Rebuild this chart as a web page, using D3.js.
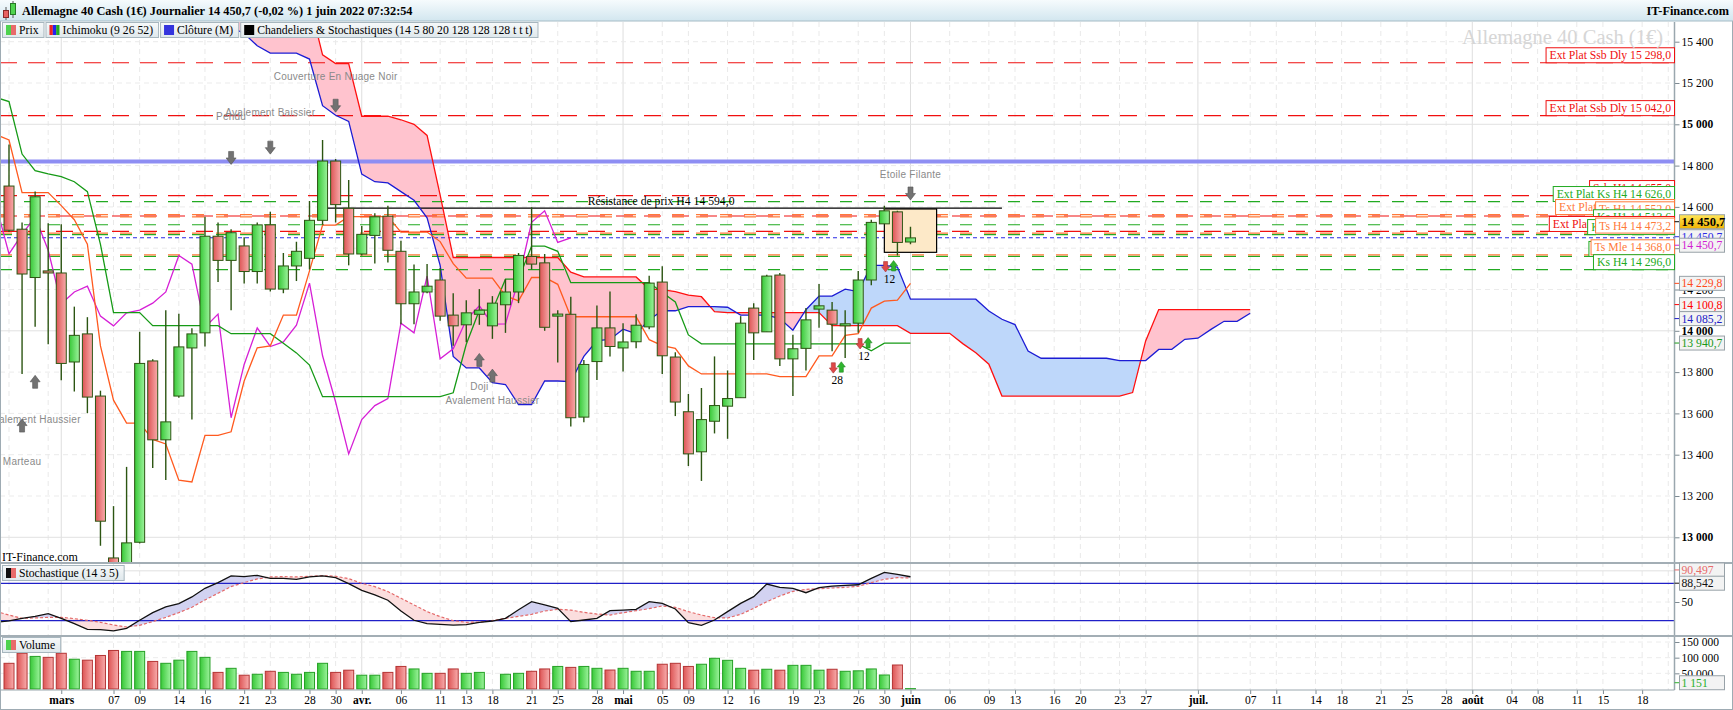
<!DOCTYPE html>
<html>
<head>
<meta charset="utf-8">
<script src="https://cdn.jsdelivr.net/npm/d3@7"></script>
<style>
body { margin: 0; background: #fff; }
svg text { font-family: "Liberation Serif", "Times New Roman", serif; }
svg text.pat { font-family: "Liberation Sans", Arial, sans-serif; }
</style>
</head>
<body>
<script>
// ---- data ----
// trading-day slot index 0 = 23 feb 2022, 69 = 1 juin 2022
var tickIdx = [4, 8, 10, 13, 15, 18, 20, 23, 25, 27, 30, 33, 35, 37, 40, 42, 45, 47, 50, 52, 55, 57, 60, 62, 65, 67, 69,
  72, 75, 77, 80, 82, 85, 87, 91, 95, 97, 100, 102, 105, 107, 110, 112, 115, 117, 120, 122, 125];
var tickLbl = ["mars", "07", "09", "14", "16", "21", "23", "28", "30", "avr.", "06", "11", "13", "18", "21", "25", "28",
  "mai", "05", "09", "12", "16", "19", "23", "26", "30", "juin", "06", "09", "13", "16", "20", "23", "27", "juil.",
  "07", "11", "14", "18", "21", "25", "28", "août", "04", "08", "11", "15", "18"];
var gridExtra = [0, 3, 127];

var open = [14701, 14492, 14258, 14290, 14280, 13849, 13985, 13684, 12900, 12800,
  12976, 13854, 13472, 13684, 13917, 13990, 14458, 14341, 14411, 14287,
  14513, 14202, 14314, 14351, 14535, 14822, 14593, 14372, 14462, 14555,
  14385, 14131, 14188, 14246, 14076, 14029, 14080, 14024, 14126, 14188,
  14360, 14329, 14071, 14080, 13582, 13851, 14014, 13917, 13947, 14019,
  14236, 13873, 13608, 13414, 13562, 13635, 13676, 14110, 13995, 14270,
  13864, 13915, 14105, 14100, 14030, 14037, 14246, 14518, 14576, 14430];
var close = [14487, 14275, 14649, 14280, 13842, 13978, 13679, 13078, 12780, 12973,
  13842, 13472, 13559, 13922, 13985, 14458, 14341, 14475, 14287, 14513,
  14202, 14314, 14385, 14535, 14822, 14611, 14372, 14467, 14552, 14390,
  14131, 14188, 14216, 14071, 14024, 14087, 14100, 14134, 14188, 14365,
  14323, 14017, 14081, 13579, 13837, 14014, 13924, 13946, 14027, 14231,
  13879, 13655, 13404, 13570, 13638, 13672, 14037, 13990, 14265, 13864,
  13913, 14053, 14121, 14032, 14034, 14246, 14525, 14581, 14428, 14450];
var high = [14902, 14525, 14674, 14521, 14516, 14117, 14066, 13710, 13151, 13341,
  13995, 13862, 14100, 14083, 14012, 14552, 14525, 14492, 14453, 14525,
  14577, 14377, 14431, 14628, 14924, 14832, 14730, 14508, 14569, 14606,
  14436, 14321, 14323, 14304, 14182, 14148, 14202, 14168, 14250, 14377,
  14598, 14372, 14100, 14165, 13859, 14122, 14190, 14037, 14080, 14267,
  14312, 13896, 13694, 13723, 13876, 13808, 14071, 14134, 14272, 14280,
  13981, 14110, 14227, 14139, 14100, 14290, 14538, 14606, 14581, 14504];
var low = [14479, 13791, 14020, 13935, 13761, 13706, 13601, 12959, 12440, 12470,
  12970, 13336, 13277, 13676, 13570, 13924, 14236, 14100, 14229, 14229,
  14190, 14182, 14241, 14297, 14513, 14525, 14317, 14365, 14326, 14331,
  14032, 14032, 14182, 14049, 13927, 13944, 14029, 13961, 13990, 14134,
  14297, 14000, 13846, 13537, 13557, 13762, 13876, 13803, 13915, 14008,
  13791, 13587, 13345, 13273, 13503, 13477, 13676, 13859, 13995, 13829,
  13684, 13808, 14015, 13901, 13868, 13990, 14221, 14518, 14365, 14419];
var volume = [82000, 114000, 104000, 101000, 114000, 95000, 92000, 107000, 123000, 120000,
  120000, 88000, 82000, 92000, 120000, 101000, 53000, 66000, 44000, 47000,
  56500, 53000, 47000, 53000, 82000, 53000, 60000, 44000, 44000, 53000,
  72000, 64000, 50000, 50000, 64000, 50000, 53000, 0, 47000, 50000,
  56500, 64000, 72000, 69000, 72000, 66000, 60500, 66000, 56500, 56500,
  79000, 82000, 72000, 79000, 98000, 91500, 66000, 60000, 63000, 60000,
  75500, 75500, 60000, 63000, 56500, 58000, 64000, 44700, 76600, 1151];

// ichimoku lines, first value is slot -1
var tenkan = [14950, 14924, 14669, 14669, 14669, 14606, 14538, 14419, 13927, 13664,
  13553, 13553, 13474, 13452, 13277, 13268, 13494, 13494, 13511, 13757,
  13918, 13927, 14076, 14076, 14290, 14512, 14512, 14553, 14553, 14553,
  14553, 14478, 14478, 14478, 14432, 14325, 14255, 14255, 14255, 14170,
  14145, 14258, 14258, 14225, 14068, 14068, 14068, 14068, 14068, 14068,
  13957, 13928, 13915, 13830, 13791, 13791, 13791, 13791, 13791, 13791,
  13778, 13778, 13778, 13879, 13879, 13978, 13986, 14110, 14144, 14148, 14230];
var kijun = [15130, 15110, 14856, 14776, 14760, 14747, 14722, 14674, 14419, 14088,
  14088, 14088, 14025, 14025, 14025, 14025, 14025, 14025, 13986, 13986,
  13986, 13986, 13940, 13893, 13834, 13681, 13681, 13681, 13681, 13681,
  13681, 13681, 13681, 13681, 13681, 13700, 13935, 14100, 14100, 14250,
  14250, 14410, 14410, 14385, 14233, 14233, 14233, 14233, 14233, 14233,
  14233, 14185, 14140, 13980, 13937, 13937, 13937, 13937, 13937, 13937,
  13937, 13937, 13937, 13937, 13937, 13937, 13937, 13903, 13940, 13940, 13940];
var chikou = [14611, 14372, 14467, 14552, 14390, 14131, 14188, 14216, 14071, 14024,
  14087, 14100, 14134, 14188, 14365, 14323, 14017, 14081, 13579, 13837,
  14014, 13924, 13946, 14027, 14231, 13879, 13655, 13404, 13570, 13638,
  13672, 14037, 13990, 14265, 13864, 13913, 14053, 14121, 14032, 14034,
  14246, 14525, 14581, 14428, 14450];
// senkou spans, slot -1 .. 95
var ssa = [15620, 15610, 15600, 15590, 15580, 15570, 15560, 15555, 15550, 15540, 15530, 15520, 15510, 15505, 15500, 15495, 15490, 15485,
  15470, 15440, 15380, 15345, 15345, 15345, 15316, 15090, 15044, 15014,
  14759, 14722, 14716, 14674, 14632, 14547, 14317, 13876, 13820, 13820,
  13749, 13740, 13643, 13643, 13757, 13757, 13754, 13876, 13952, 13958,
  14008, 13986, 14054, 14097, 14097, 14117, 14117, 14117, 14114, 14076,
  14076, 14076, 14059, 14003, 14102, 14168, 14168, 14202, 14190, 14317,
  14317, 14309, 14153, 14153, 14153, 14153, 14153, 14153, 14096, 14056,
  14030, 13902, 13867, 13867, 13867, 13867, 13867, 13867, 13856, 13856,
  13856, 13910, 13910, 13959, 13964, 14007, 14046, 14046, 14085];
var ssb = [15700, 15700, 15690, 15680, 15680, 15670, 15660, 15650, 15650, 15640, 15640, 15630, 15630, 15620, 15620, 15610, 15610, 15600, 15600, 15600, 15600, 15600, 15600, 15600,
  15593, 15336, 15294, 15294, 15039, 15039, 15039, 15022, 15000, 14946,
  14657, 14355, 14355, 14355, 14355, 14355, 14355, 14355, 14355, 14355,
  14284, 14261, 14261, 14261, 14261, 14261, 14202, 14199, 14190, 14173,
  14165, 14093, 14088, 14088, 14088, 14088, 14088, 14088, 14088, 14088,
  14025, 14025, 14025, 14025, 14025, 14025, 13988, 13988, 13988, 13988,
  13938, 13894, 13838, 13684, 13684, 13684, 13684, 13684, 13684, 13684,
  13684, 13684, 13684, 13701, 13951, 14103, 14103, 14103, 14103, 14103, 14103, 14103, 14103];

// stochastic, slot -1 .. 69
var stochK = [17.5, 19.6, 23.8, 27.0, 31.2, 23.8, 15.3, 6.2, 5.7, 3.6, 7.8,
  20.7, 33.0, 42.1, 47.4, 58.1, 72.0, 81.1, 91.8, 90.7, 92.8,
  88.0, 88.0, 86.4, 90.2, 91.8, 89.1, 79.5, 68.8, 61.3, 52.8,
  35.6, 20.7, 15.3, 14.2, 13.0, 13.6, 17.4, 19.5, 23.8, 37.6,
  50.5, 45.2, 39.8, 18.5, 21.1, 23.8, 36.1, 37.1, 38.2, 50.5,
  47.8, 38.8, 16.9, 12.6, 21.1, 34.5, 47.8, 58.5, 78.8, 73.5,
  71.9, 64.9, 72.9, 75.6, 76.7, 77.7, 88.0, 97.6, 94.4, 90.5];
var stochD = [35.0, 29.1, 23.8, 24.4, 25.4, 25.4, 23.3, 20.6, 17.4, 13.1, 9.9,
  12.6, 18.5, 25.4, 32.9, 41.5, 53.3, 64.0, 74.7, 81.1, 87.0,
  90.2, 90.7, 90.2, 91.3, 92.3, 91.3, 87.5, 80.0, 74.7, 66.7,
  56.0, 45.3, 34.6, 26.5, 20.1, 17.4, 17.9, 20.0, 23.8, 27.0,
  30.2, 35.5, 38.2, 37.1, 33.4, 30.7, 29.1, 32.8, 36.1, 39.3,
  43.6, 41.4, 34.5, 29.1, 24.8, 24.3, 30.2, 39.8, 50.5, 59.6,
  67.1, 70.3, 71.4, 72.5, 73.5, 75.1, 81.0, 86.4, 89.0, 88.5];

var priceTicks = [13000, 13200, 13400, 13600, 13800, 14000, 14200, 14400, 14600, 14800, 15000, 15200, 15400];
var stochTicks = [50];
var volTicks = [50000, 100000, 150000];

// horizontal levels: price, colour, label
var levelPrice = [15298, 15042, 14655, 14626, 14563, 14556, 14552, 14513.6, 14481, 14466, 14473.2, 14360, 14368, 14296];
var levelColor = ["red", "red", "red", "green", "orange", "red", "orange", "green", "red", "green", "orange", "green", "orange", "green"];
var levelText = ["Ext Plat Ssb Dly 15 298,0", "Ext Plat Ssb Dly 15 042,0", "Ssb H1 14 655,0", "Ext Plat Ks H4 14 626,0",
  "Ext Plat Ts H1 14 563,0", "", "Ts H1 14 552,0", "Ks H1 14 513,6", "Ext Plat Ssb H4 14 481,0", "Ks Hbd 14 466,0",
  "Ts H4 14 473,2", "Ks Mle 14 360,0", "Ts Mle 14 368,0", "Ks H4 14 296,0"];
var lastPrice = 14450.7;
var monthClose = 14820;
var resistance = 14594;

// chart patterns
var patText = [["Couverture En Nuage Noir", 25, 15234], ["Pendu", 17, 15038], ["Avalement Baissier", 20, 15061],
  ["Avalement Haussier", 1.9, 13575], ["Marteau", 1, 13371], ["Doji", 36, 13734], ["Avalement Haussier", 37, 13664],
  ["Etoile Filante", 69, 14759]];
var patArrow = [[17, 14837, "d"], [20, 14887, "d"], [25, 15090, "d"], [69, 14665, "d"],
  [2, 13753, "u"], [1, 13541, "u"], [36, 13859, "u"], [37, 13783, "u"]];
var signals = [[63.4, 13762, "28"], [65.45, 13879, "12"], [67.4, 14252, "12"]];

// values shown in boxes on the right scale
var axisVals = [[14229.8, "14 229,8", "#ff4a1a"], [14100.8, "14 100,8", "#ff0000"], [14085.2, "14 085,2", "#1c1cc8"], [13940.7, "13 940,7", "#1a9a1a"]];

// ---- layout ----
var W = 1733, H = 710, AX = 1674.5;
var MT = 22, MB = 563, ST = 563, SB = 636, VB = 690;
var COL = { red: "#f01010", green: "#22aa22", orange: "#ff7a3a" };

var x = d3.scaleLinear().domain([0, 125]).range([9, 9 + 125 * 13.065]);
var y = d3.scaleLinear().domain([13000, 15400]).range([537.3, 41.7]);
var ys = d3.scaleLinear().domain([20, 80]).range([620.7, 583.3]);
var yv = d3.scaleLinear().domain([0, 150000]).range([689, 642]);
var fmt = function(d) { return d3.format(",")(d).replace(/,/g, " "); };

var svg = d3.select("body").append("svg").attr("width", W).attr("height", H).style("display", "block");
var defs = svg.append("defs");

function grad(id, c0, c1, vert) {
  var g = defs.append("linearGradient").attr("id", id)
    .attr("x1", 0).attr("y1", 0).attr("x2", vert ? 0 : 1).attr("y2", vert ? 1 : 0);
  g.append("stop").attr("offset", "0%").attr("stop-color", c0);
  g.append("stop").attr("offset", "100%").attr("stop-color", c1);
}
grad("gUp", "#38c838", "#9cf39c");
grad("gDn", "#dd5555", "#f8acac");
grad("gTitle", "#f6fbfd", "#d2e6ef", true);
grad("gGold", "#ffe65a", "#f1b300", true);
grad("gBox", "#f7f9fa", "#dfe8ec", true);

defs.append("clipPath").attr("id", "cMain").append("rect").attr("x", 0).attr("y", MT).attr("width", AX).attr("height", MB - MT);
defs.append("clipPath").attr("id", "cSto").append("rect").attr("x", 0).attr("y", ST).attr("width", AX).attr("height", SB - ST);
defs.append("clipPath").attr("id", "cVol").append("rect").attr("x", 0).attr("y", SB).attr("width", AX).attr("height", VB - SB);

svg.append("rect").attr("width", W).attr("height", H).attr("fill", "#fff");

// ---- grid ----
var grid = svg.append("g");
var allGrid = tickIdx.map(function(d, k) { return { i: d, m: isNaN(+tickLbl[k]) }; })
  .concat(gridExtra.map(function(d) { return { i: d, m: false }; }));
grid.selectAll(".vg").data(allGrid).enter().append("line")
  .attr("x1", function(d) { return x(d.i); }).attr("x2", function(d) { return x(d.i); })
  .attr("y1", MT).attr("y2", VB)
  .attr("stroke", function(d) { return d.m ? "#dedede" : "#e9e9e9"; })
  .attr("stroke-dasharray", function(d) { return d.m ? null : "5,4"; });
grid.selectAll(".hg").data(priceTicks).enter().append("line")
  .attr("x1", 0).attr("x2", AX).attr("y1", function(d) { return y(d); }).attr("y2", function(d) { return y(d); })
  .attr("stroke", function(d) { return d % 1000 === 0 ? "#e2e2e2" : "#ebebeb"; })
  .attr("stroke-dasharray", function(d) { return d % 1000 === 0 ? null : "5,4"; });
grid.append("line").attr("x1", 0).attr("x2", AX).attr("y1", ys(100)).attr("y2", ys(100)).attr("stroke", "#e0e0e0");
grid.append("line").attr("x1", 0).attr("x2", AX).attr("y1", ys(50)).attr("y2", ys(50)).attr("stroke", "#ececec").attr("stroke-dasharray", "5,4");
grid.selectAll(".vv").data(volTicks).enter().append("line")
  .attr("x1", 0).attr("x2", AX).attr("y1", function(d) { return yv(d); }).attr("y2", function(d) { return yv(d); })
  .attr("stroke", "#ececec").attr("stroke-dasharray", "5,4");

// ---- main panel ----
var main = svg.append("g").attr("clip-path", "url(#cMain)");
var slots = d3.range(-1, 96);
var cloud = slots.map(function(i, k) { return { i: i, a: ssa[k], b: ssb[k] }; });
defs.append("clipPath").attr("id", "cUp").append("path")
  .attr("d", d3.area().x(function(d) { return x(d.i); }).y0(0).y1(function(d) { return y(d.a); })(cloud));
defs.append("clipPath").attr("id", "cDn").append("path")
  .attr("d", d3.area().x(function(d) { return x(d.i); }).y0(function(d) { return y(d.a); }).y1(H)(cloud));
var between = d3.area().x(function(d) { return x(d.i); }).y0(function(d) { return y(d.a); }).y1(function(d) { return y(d.b); });
main.append("path").attr("d", between(cloud)).attr("fill", "#ffc3ce").attr("clip-path", "url(#cUp)");
main.append("path").attr("d", between(cloud)).attr("fill", "#bed7fa").attr("clip-path", "url(#cDn)");

// level lines
levelPrice.forEach(function(p, k) {
  var c = levelColor[k];
  main.append("line").attr("x1", 0).attr("x2", AX).attr("y1", y(p)).attr("y2", y(p))
    .attr("stroke", COL[c]).attr("stroke-width", 1.2)
    .attr("stroke-dasharray", c === "red" ? "17,11" : "12,12");
});
main.append("line").attr("x1", 0).attr("x2", AX).attr("y1", y(monthClose)).attr("y2", y(monthClose))
  .attr("stroke", "#8e8ef3").attr("stroke-width", 4);
main.append("line").attr("x1", 0).attr("x2", AX).attr("y1", y(lastPrice)).attr("y2", y(lastPrice))
  .attr("stroke", "#2a2ae6").attr("stroke-width", 1.1).attr("stroke-dasharray", "4,3");
main.append("line").attr("x1", x(24)).attr("x2", x(76)).attr("y1", y(resistance)).attr("y2", y(resistance))
  .attr("stroke", "#000").attr("stroke-width", 1.2);
main.append("text").attr("x", x(44.3)).attr("y", y(resistance) - 3.5).attr("font-size", 11.7)
  .text("Résistance de prix H4 14 594,0");

// pattern box
main.append("rect").attr("x", x(67)).attr("width", x(71) - x(67)).attr("y", y(14590)).attr("height", y(14380) - y(14590))
  .attr("fill", "#fde9c8").attr("stroke", "#000").attr("stroke-width", 1.2);

// ichimoku lines
function series(arr, start) { return arr.map(function(v, k) { return { i: k + start, v: v }; }); }
var line = d3.line().x(function(d) { return x(d.i); }).y(function(d) { return y(d.v); });
[[ssb, "#ff1010"], [ssa, "#1c1cd4"], [chikou, "#d61fd6"], [kijun, "#169a16"], [tenkan, "#ff5a1f"]].forEach(function(s) {
  main.append("path").attr("d", line(series(s[0], -1))).attr("fill", "none")
    .attr("stroke", s[1]).attr("stroke-width", 1.3);
});

// candles
var cdl = main.selectAll(".c").data(d3.range(open.length)).enter().append("g");
cdl.append("line").attr("x1", function(i) { return x(i); }).attr("x2", function(i) { return x(i); })
  .attr("y1", function(i) { return y(high[i]); }).attr("y2", function(i) { return y(low[i]); })
  .attr("stroke", "#2c5512").attr("stroke-width", 1.4);
cdl.append("rect").attr("x", function(i) { return x(i) - 5; }).attr("width", 10)
  .attr("y", function(i) { return y(Math.max(open[i], close[i])); })
  .attr("height", function(i) { return Math.max(2, Math.abs(y(open[i]) - y(close[i]))); })
  .attr("fill", function(i) { return close[i] >= open[i] ? "url(#gUp)" : "url(#gDn)"; })
  .attr("stroke", "#2c5512").attr("stroke-width", 1);

// pattern annotations
function arrow(g, cx, cy, dir, fill, s) {
  s = s || 1;
  var h = 6.5 * s, w = 5 * s, st = 2.5 * s;
  var d = dir === "d"
    ? ["M", cx - st, cy - h, "L", cx + st, cy - h, "L", cx + st, cy, "L", cx + w, cy, "L", cx, cy + h, "L", cx - w, cy, "L", cx - st, cy, "Z"]
    : ["M", cx - st, cy + h, "L", cx + st, cy + h, "L", cx + st, cy, "L", cx + w, cy, "L", cx, cy - h, "L", cx - w, cy, "L", cx - st, cy, "Z"];
  g.append("path").attr("d", d.join(" ")).attr("fill", fill).attr("stroke", d3.color(fill).darker(0.8)).attr("stroke-width", 0.6);
}
patText.forEach(function(p) {
  main.append("text").attr("class", "pat").attr("x", x(p[1])).attr("y", y(p[2]) + 4).attr("text-anchor", "middle")
    .attr("font-size", 10).attr("letter-spacing", 0.25)
    .attr("fill", "#8a8a8a").text(p[0]);
});
patArrow.forEach(function(a) { arrow(main, x(a[0]), y(a[1]), a[2], "#727272"); });
signals.forEach(function(s) {
  var cx = x(s[0]), cy = y(s[1]);
  arrow(main, cx - 4, cy - 12, "d", "#e04848", 0.8);
  arrow(main, cx + 4, cy - 13, "u", "#2fb52f", 0.8);
  main.append("text").attr("x", cx).attr("y", cy + 4).attr("text-anchor", "middle").attr("font-size", 11.5).text(s[2]);
});
main.append("text").attr("x", 2).attr("y", 561).attr("font-size", 12).text("IT-Finance.com");

// ---- stochastic ----
var sto = svg.append("g").attr("clip-path", "url(#cSto)");
var st = d3.range(-1, 70).map(function(i, k) { return { i: i, k: stochK[k], d: stochD[k] }; });
defs.append("clipPath").attr("id", "cKup").append("path")
  .attr("d", d3.area().x(function(d) { return x(d.i); }).y0(0).y1(function(d) { return ys(d.k); })(st));
defs.append("clipPath").attr("id", "cKdn").append("path")
  .attr("d", d3.area().x(function(d) { return x(d.i); }).y0(function(d) { return ys(d.k); }).y1(H)(st));
var stBetween = d3.area().x(function(d) { return x(d.i); }).y0(function(d) { return ys(d.k); }).y1(function(d) { return ys(d.d); });
sto.append("path").attr("d", stBetween(st)).attr("fill", "#fbdede").attr("clip-path", "url(#cKup)");
sto.append("path").attr("d", stBetween(st)).attr("fill", "#d2d2f1").attr("clip-path", "url(#cKdn)");
[80, 20].forEach(function(v) {
  sto.append("line").attr("x1", 0).attr("x2", AX).attr("y1", ys(v)).attr("y2", ys(v)).attr("stroke", "#2020c8").attr("stroke-width", 1.3);
});
sto.append("path").attr("d", d3.line().x(function(d) { return x(d.i); }).y(function(d) { return ys(d.d); })(st))
  .attr("fill", "none").attr("stroke", "#e46a6a").attr("stroke-width", 1.2).attr("stroke-dasharray", "3,2");
sto.append("path").attr("d", d3.line().x(function(d) { return x(d.i); }).y(function(d) { return ys(d.k); })(st))
  .attr("fill", "none").attr("stroke", "#111").attr("stroke-width", 1.3);

// ---- volume ----
var vol = svg.append("g").attr("clip-path", "url(#cVol)");
vol.selectAll("rect").data(d3.range(volume.length).filter(function(i) { return volume[i] > 0; })).enter().append("rect")
  .attr("x", function(i) { return x(i) - 5; }).attr("width", 10)
  .attr("y", function(i) { return yv(volume[i]); }).attr("height", function(i) { return yv(0) - yv(volume[i]); })
  .attr("fill", function(i) { return close[i] >= open[i] ? "url(#gUp)" : "url(#gDn)"; })
  .attr("stroke", function(i) { return close[i] >= open[i] ? "#26a026" : "#b43434"; }).attr("stroke-width", 1);

// ---- axes ----
var ya = svg.append("g").attr("transform", "translate(" + AX + ",0)")
  .call(d3.axisRight(y).tickValues(priceTicks).tickSize(5).tickPadding(2).tickFormat(fmt));
var sa = svg.append("g").attr("transform", "translate(" + AX + ",0)")
  .call(d3.axisRight(ys).tickValues(stochTicks).tickSize(5).tickPadding(2));
var va = svg.append("g").attr("transform", "translate(" + AX + ",0)")
  .call(d3.axisRight(yv).tickValues(volTicks).tickSize(5).tickPadding(2).tickFormat(fmt));
var xa = svg.append("g").attr("transform", "translate(0," + VB + ")")
  .call(d3.axisBottom(x).tickValues(tickIdx).tickSize(4).tickPadding(2).tickFormat(function(d, k) { return tickLbl[k]; }));
[ya, sa, va, xa].forEach(function(a) {
  a.select(".domain").remove();
  a.selectAll("line").attr("stroke", "#7d8a92");
  a.selectAll("text").attr("font-size", 11.5).attr("fill", "#000");
});
ya.selectAll("text").attr("font-weight", function(d) { return d % 1000 === 0 ? "bold" : null; });
xa.selectAll("text").attr("font-weight", function(d, k) { return isNaN(+tickLbl[k]) ? "bold" : null; });

// ---- frame ----
var frame = svg.append("g");
frame.append("line").attr("x1", AX).attr("x2", AX).attr("y1", MT).attr("y2", VB).attr("stroke", "#9aa7ae").attr("stroke-width", 1.5);
[ST, SB].forEach(function(v) {
  frame.append("line").attr("x1", 0).attr("x2", W).attr("y1", v).attr("y2", v).attr("stroke", "#a3aeb5").attr("stroke-width", 2);
});
frame.append("line").attr("x1", 0).attr("x2", AX).attr("y1", VB).attr("y2", VB).attr("stroke", "#9aa7ae").attr("stroke-width", 1);
frame.append("rect").attr("x", 0.5).attr("y", 0.5).attr("width", W - 1).attr("height", H - 1)
  .attr("fill", "none").attr("stroke", "#9eabb3");

// ---- level labels ----
function measure(txt, size, weight) {
  var t = svg.append("text").attr("font-size", size).attr("font-weight", weight || null).text(txt);
  var w = t.node().getComputedTextLength();
  t.remove();
  return w;
}
var lab = svg.append("g");
levelPrice.forEach(function(p, k) {
  if (!levelText[k]) return;
  var w = measure(levelText[k], 11.7) + 7, yb = y(p);
  lab.append("rect").attr("x", AX - w).attr("y", yb - 15).attr("width", w).attr("height", 15)
    .attr("fill", "#fff").attr("stroke", COL[levelColor[k]]).attr("stroke-width", 1);
  lab.append("text").attr("x", AX - w + 3.5).attr("y", yb - 3.5).attr("font-size", 11.7)
    .attr("fill", COL[levelColor[k]]).text(levelText[k]);
});

// ---- value boxes on the right scale ----
function valBox(cy, txt, color, fill, bold) {
  svg.append("line").attr("x1", AX).attr("x2", AX + 5).attr("y1", cy).attr("y2", cy).attr("stroke", color);
  svg.append("rect").attr("x", AX + 5).attr("y", cy - 7).attr("width", 45).attr("height", 14)
    .attr("fill", fill || "#f3f3f3").attr("stroke", "#98a2a8");
  svg.append("text").attr("x", AX + 7).attr("y", cy + 4).attr("font-size", bold ? 12.5 : 11.7)
    .attr("font-weight", bold ? "bold" : null).attr("fill", color).text(txt);
}
var av = axisVals.map(function(a) { return { y: y(a[0]), t: a[1], c: a[2] }; });
for (var pass = 0; pass < 6; pass++) {
  for (var k = 1; k < av.length; k++) {
    var gap = av[k].y - av[k - 1].y;
    if (gap < 14) { av[k - 1].y -= (14 - gap) / 2; av[k].y += (14 - gap) / 2; }
  }
}
av.forEach(function(a) { valBox(a.y, a.t, a.c); });
var py = y(lastPrice);
valBox(py - 1, "14 450,7", "#2a2ae6");
valBox(py + 7.5, "14 450,7", "#d21fd2");
valBox(py - 16, "14 450,7", "#000", "url(#gGold)", true);
valBox(ys(95) - 4, "90,497", "#e86a6a");
valBox(ys(93) + 8, "88,542", "#111");
valBox(yv(20000), "1 151", "#2ab02a");

// ---- title bar and legends ----
svg.append("rect").attr("x", 0).attr("y", 0).attr("width", W).attr("height", 21).attr("fill", "url(#gTitle)");
svg.append("line").attr("x1", 0).attr("x2", W).attr("y1", 21).attr("y2", 21).attr("stroke", "#a6bcc6");
svg.append("line").attr("x1", 6).attr("x2", 6).attr("y1", 7).attr("y2", 20).attr("stroke", "#555");
svg.append("rect").attr("x", 3.5).attr("y", 10.5).attr("width", 5).attr("height", 7).attr("fill", "#e86262").attr("stroke", "#8a2a2a");
svg.append("line").attr("x1", 13).attr("x2", 13).attr("y1", 1).attr("y2", 18).attr("stroke", "#555");
svg.append("rect").attr("x", 10.5).attr("y", 3.5).attr("width", 5).attr("height", 11).attr("fill", "#4fd44f").attr("stroke", "#267a26");
svg.append("text").attr("x", 22).attr("y", 15).attr("font-size", 12.3).attr("font-weight", "bold")
  .text("Allemagne 40 Cash (1€) Journalier 14 450,7 (-0,02 %) 1 juin 2022 07:32:54");
svg.append("text").attr("x", 1729).attr("y", 15).attr("text-anchor", "end").attr("font-size", 12.3).attr("font-weight", "bold")
  .text("IT-Finance.com");
svg.append("text").attr("x", 1663).attr("y", 44).attr("text-anchor", "end").attr("font-size", 20.5).attr("fill", "#d6d6d6")
  .text("Allemagne 40 Cash (1€)");

function legendBox(x0, y0, txt, colors) {
  var w = measure(txt, 11.7) + 22;
  svg.append("rect").attr("x", x0 + 0.5).attr("y", y0 + 0.5).attr("width", w).attr("height", 15)
    .attr("fill", "url(#gBox)").attr("stroke", "#a7b6be");
  var sw = 10 / colors.length;
  colors.forEach(function(c, k) {
    svg.append("rect").attr("x", x0 + 4 + k * sw).attr("y", y0 + 3).attr("width", sw).attr("height", 10).attr("fill", c);
  });
  svg.append("text").attr("x", x0 + 17).attr("y", y0 + 12).attr("font-size", 11.7).text(txt);
  return x0 + w + 2;
}
var lx = 2;
lx = legendBox(lx, 22, "Prix", ["#4ed24e", "#e86a6a"]);
lx = legendBox(lx, 22, "Ichimoku (9 26 52)", ["#ee2222", "#2222ee", "#22aa22"]);
lx = legendBox(lx, 22, "Clôture (M)", ["#3434dd"]);
lx = legendBox(lx, 22, "Chandeliers & Stochastiques (14 5 80 20 128 128 128 t t t)", ["#000"]);
legendBox(2, 565, "Stochastique (14 3 5)", ["#111", "#e86a6a"]);
legendBox(2, 637, "Volume", ["#4ed24e", "#e86a6a"]);
</script>
</body>
</html>
